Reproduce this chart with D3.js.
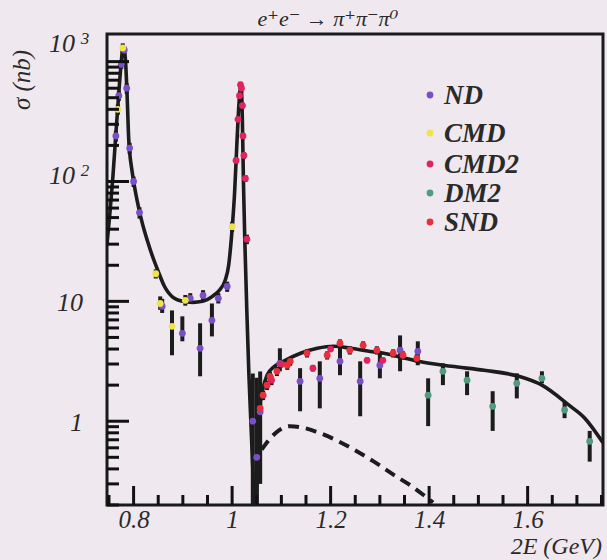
<!DOCTYPE html>
<html><head><meta charset="utf-8">
<script src="https://cdn.jsdelivr.net/npm/d3@7"></script>
<style>
body{margin:0;background:#efe9ef;}
svg{display:block;}
text{font-family:"Liberation Serif","DejaVu Serif",serif;font-style:italic;fill:#2a2a2a;}
</style></head><body>
<script>
// ---------- data ----------
const title = "e⁺e⁻ → π⁺π⁻π⁰";
const xLabel = "2E (GeV)";
const yLabel = "σ (nb)";
const xTickValues = [0.8, 1.0, 1.2, 1.4, 1.6];
const xTickLabels = ["0.8", "1", "1.2", "1.4", "1.6"];
const yTickValues = [1, 10, 100, 1000];
const yTickBase = ["1", "10", "10", "10"];
const yTickExp = ["", "", "2", "3"];
const seriesNames = ["ND", "CMD", "CMD2", "DM2", "SND"];
const seriesColors = ["#7a50c8", "#efe24a", "#e0245e", "#4f9c80", "#e8303c"];

// fitted curve (total)
const curveE = [0.746,0.752,0.758,0.764,0.770,0.775,0.779,0.783,0.787,0.790,0.797,0.807,0.817,0.828,0.838,0.850,0.862,0.880,0.900,0.920,0.940,0.960,0.975,0.986,0.993,1.000,1.005,1.010,1.014,1.017,1.019,1.021,1.023,1.026,1.030,1.034,1.038,1.042,1.045,1.048,1.051,1.054,1.058,1.063,1.071,1.085,1.104,1.139,1.173,1.206,1.241,1.275,1.308,1.345,1.378,1.445,1.512,1.582,1.629,1.684,1.716,1.753];
const curveS = [30,55,110,250,550,1000,1350,1100,500,230,121,70,46,32,24,17.8,13.5,10.8,10.0,9.8,10.0,11.0,12.5,15,20,40,80,220,450,600,590,300,100,30,8,2.5,1.0,0.4,0.2,0.12,0.35,0.9,1.5,1.9,2.42,2.85,3.16,3.69,4.06,4.22,4.06,3.85,3.69,3.4,3.16,2.87,2.66,2.37,2.0,1.36,1.06,0.66];
// dashed curve (component)
const dashE = [1.060,1.075,1.095,1.118,1.145,1.170,1.194,1.241,1.288,1.329,1.363,1.390,1.408];
const dashS = [0.58,0.70,0.84,0.91,0.88,0.82,0.75,0.60,0.46,0.355,0.29,0.24,0.21];

// measurements: energy, sigma, lower and upper error-bar ends (nb)
const ndE  = [0.764,0.770,0.775,0.781,0.786,0.792,0.800,0.812,0.858,0.899,0.915,0.935,0.941,0.959,0.972,0.990,1.042,1.050,1.057,1.097,1.138,1.178,1.219,1.260,1.300,1.341,1.377];
const ndS  = [240,520,950,1250,600,190,100,55,9.1,5.41,10.6,4.06,11.2,6.95,10.6,13.3,1.0,0.5,1.2,3.04,2.15,2.28,3.16,2.15,2.93,3.91,3.83];
const ndLo = [215,470,870,1150,540,170,90,49,8.0,4.64,9.6,2.37,10.1,5.1,9.6,12.0,0.2,0.1,0.3,2.61,1.21,1.28,2.42,1.1,2.28,2.61,2.93];
const ndHi = [265,570,1030,1350,660,210,110,61,10.5,7.5,11.7,6.56,12.4,9.6,11.7,14.6,2.5,2.3,2.6,4.06,2.77,3.16,4.3,3.16,3.83,5.2,4.64];

const cmdE  = [0.768,0.778,0.845,0.854,0.878,0.905,1.000];
const cmdS  = [400,1300,17,9.6,6.19,10.2,42];
const cmdLo = [360,1180,15.5,8.5,3.55,9.2,38];
const cmdHi = [440,1420,18.5,11,8.4,11.3,46];

const cmd2E  = [1.008,1.012,1.015,1.017,1.019,1.021,1.022,1.024,1.027,1.030,1.080,1.100,1.164,1.200,1.274,1.306];
const cmd2S  = [150,330,520,640,600,430,240,165,106,33,2.2,3.0,2.77,4.0,3.22,3.22];
const cmd2Lo = [140,310,490,600,565,405,225,155,99,30,2.0,2.8,2.6,3.8,3.05,3.05];
const cmd2Hi = [160,350,550,680,635,455,255,175,113,36,2.4,3.2,2.95,4.2,3.4,3.4];

const dm2E  = [1.398,1.428,1.477,1.529,1.578,1.629,1.675,1.726];
const dm2S  = [1.65,2.61,2.2,1.33,2.07,2.28,1.24,0.68];
const dm2Lo = [0.91,2.0,1.65,0.83,1.55,2.07,1.06,0.46];
const dm2Hi = [2.28,3.04,2.61,1.78,2.51,2.61,1.47,0.83];

const sndE  = [1.057,1.063,1.071,1.077,1.091,1.112,1.118,1.152,1.193,1.219,1.239,1.266,1.294,1.327,1.347,1.375];
const sndS  = [1.28,1.65,2.0,2.37,2.61,2.93,3.16,3.69,3.55,4.47,3.91,4.3,3.91,3.69,3.55,3.35];
const sndLo = [1.15,1.5,1.82,2.15,2.38,2.68,2.9,3.4,3.27,4.12,3.6,3.96,3.6,3.4,3.27,3.08];
const sndHi = [1.41,1.8,2.18,2.59,2.84,3.18,3.42,3.98,3.83,4.82,4.22,4.64,4.22,3.98,3.83,3.62];

// ---------- layout ----------
const W = 607, H = 560;
const L = 107, R = 603, T = 34, B = 505;
const svg = d3.select("body").append("svg").attr("width", W).attr("height", H);

const x = d3.scaleLinear().domain([0.746, 1.753]).range([L, R]);
const y = d3.scaleLog().domain([0.2, 1700]).range([B, T]);

svg.append("clipPath").attr("id","clip").append("rect")
  .attr("x", L).attr("y", T).attr("width", R-L).attr("height", B-T);

// tick values
const xMinor = d3.range(0.75, 1.751, 0.05).map(v => +v.toFixed(2)).filter(v => !xTickValues.some(t => Math.abs(t - v) < 1e-6));
const yMinor = [];
[0.1, 1, 10, 100, 1000].forEach(dec => { for (let k = 2; k <= 9; k++) { const v = dec*k; if (v >= 0.2 && v <= 1700) yMinor.push(v); } });

// axis label groups positioned by d3 axes
const gxl = svg.append("g").attr("transform", `translate(0,${B})`)
  .call(d3.axisBottom(x).tickValues(xTickValues).tickSize(0).tickFormat(() => ""))
  .call(g => g.select(".domain").remove());
gxl.selectAll(".tick").append("text").attr("y", 23).attr("text-anchor","middle")
  .attr("font-size", 25).attr("fill","#2a2a2a").text((d,i) => xTickLabels[i]);

const gy = svg.append("g").attr("transform", `translate(${L},0)`)
  .call(d3.axisLeft(y).tickValues(yTickValues).tickSize(0).tickFormat(() => ""))
  .call(g => g.select(".domain").remove());
gy.selectAll(".tick").each(function(d, i) {
  const t = d3.select(this).append("text").attr("font-size", 26).attr("fill","#2a2a2a");
  if (yTickExp[i]) {
    t.attr("x", -32).attr("y", i === 3 ? -10 : 2).attr("text-anchor","end").text(yTickBase[i]);
    d3.select(this).append("text").attr("font-size", 17).attr("fill","#2a2a2a")
      .attr("x", -22).attr("y", i === 3 ? -18 : -6).attr("text-anchor","middle").text(yTickExp[i]);
  } else {
    t.attr("x", -24).attr("y", 9).attr("text-anchor","end").text(yTickBase[i]);
  }
});

// curves
const line = d3.line().x(d => x(d[0])).y(d => y(d[1])).curve(d3.curveMonotoneX);
const plot = svg.append("g").attr("clip-path","url(#clip)");
plot.append("path").datum(dashE.map((e,i) => [e, dashS[i]]))
  .attr("d", line).attr("fill","none").attr("stroke","#1c1c1c").attr("stroke-width",4)
  .attr("stroke-dasharray","11,7");

// data
const series = [
  [ndE, ndS, ndLo, ndHi], [cmdE, cmdS, cmdLo, cmdHi], [cmd2E, cmd2S, cmd2Lo, cmd2Hi],
  [dm2E, dm2S, dm2Lo, dm2Hi], [sndE, sndS, sndLo, sndHi]
];
series.forEach((s, k) => {
  const pts = s[0].map((e, i) => ({e, v: s[1][i], lo: s[2][i], hi: s[3][i]}));
  plot.append("g").selectAll("line").data(pts).join("line")
    .attr("x1", d => x(d.e)).attr("x2", d => x(d.e))
    .attr("y1", d => y(d.lo)).attr("y2", d => y(d.hi))
    .attr("stroke","#1c1c1c").attr("stroke-width",4);
});
plot.append("path").datum(curveE.map((e,i) => [e, curveS[i]]))
  .attr("d", line).attr("fill","none").attr("stroke","#1c1c1c").attr("stroke-width",3.6);
series.forEach((s, k) => {
  const pts = s[0].map((e, i) => ({e, v: s[1][i]}));
  plot.append("g").selectAll("circle").data(pts).join("circle")
    .attr("cx", d => x(d.e)).attr("cy", d => y(d.v)).attr("r", 3.4)
    .attr("fill", seriesColors[k]);
});

// frame
svg.append("rect").attr("x", L).attr("y", T).attr("width", R-L).attr("height", B-T)
  .attr("fill","none").attr("stroke","#1a1a1a").attr("stroke-width",3);

// inward tick marks drawn from the scales
const tickG = svg.append("g");
tickG.selectAll(".xmin").data(xMinor).join("line").attr("class","xmin")
  .attr("x1", d => x(d)).attr("x2", d => x(d)).attr("y1", B).attr("y2", B - 10)
  .attr("stroke", "#111").attr("stroke-width", 3);
tickG.selectAll(".xmaj").data(xTickValues).join("line").attr("class","xmaj")
  .attr("x1", d => x(d)).attr("x2", d => x(d)).attr("y1", B).attr("y2", B - 19)
  .attr("stroke", "#111").attr("stroke-width", 3);
tickG.selectAll(".ymin").data(yMinor).join("line").attr("class","ymin")
  .attr("x1", L).attr("x2", L + 12).attr("y1", d => y(d)).attr("y2", d => y(d))
  .attr("stroke", "#111").attr("stroke-width", 3);
tickG.selectAll(".ymaj").data(yTickValues).join("line").attr("class","ymaj")
  .attr("x1", L).attr("x2", L + 22).attr("y1", d => y(d)).attr("y2", d => y(d))
  .attr("stroke", "#111").attr("stroke-width", 3);

// legend
const leg = svg.append("g");
const legY = [95, 133, 164, 193, 222];
seriesNames.forEach((n, i) => {
  leg.append("circle").attr("cx", 430).attr("cy", legY[i]).attr("r", 3.4).attr("fill", seriesColors[i]);
  leg.append("text").attr("x", 444).attr("y", legY[i] + 9).attr("font-size", 27)
    .attr("font-weight","bold").attr("fill","#2a2a2a").text(n);
});

// titles
svg.append("text").attr("x", 328).attr("y", 26).attr("text-anchor","middle")
  .attr("font-size", 22).text(title);
svg.append("text").attr("x", 602).attr("y", 554).attr("text-anchor","end")
  .attr("font-size", 24).text(xLabel);
svg.append("text").attr("transform","translate(30,80) rotate(-90)").attr("text-anchor","middle")
  .attr("font-size", 25).text(yLabel);
</script>
</body></html>
